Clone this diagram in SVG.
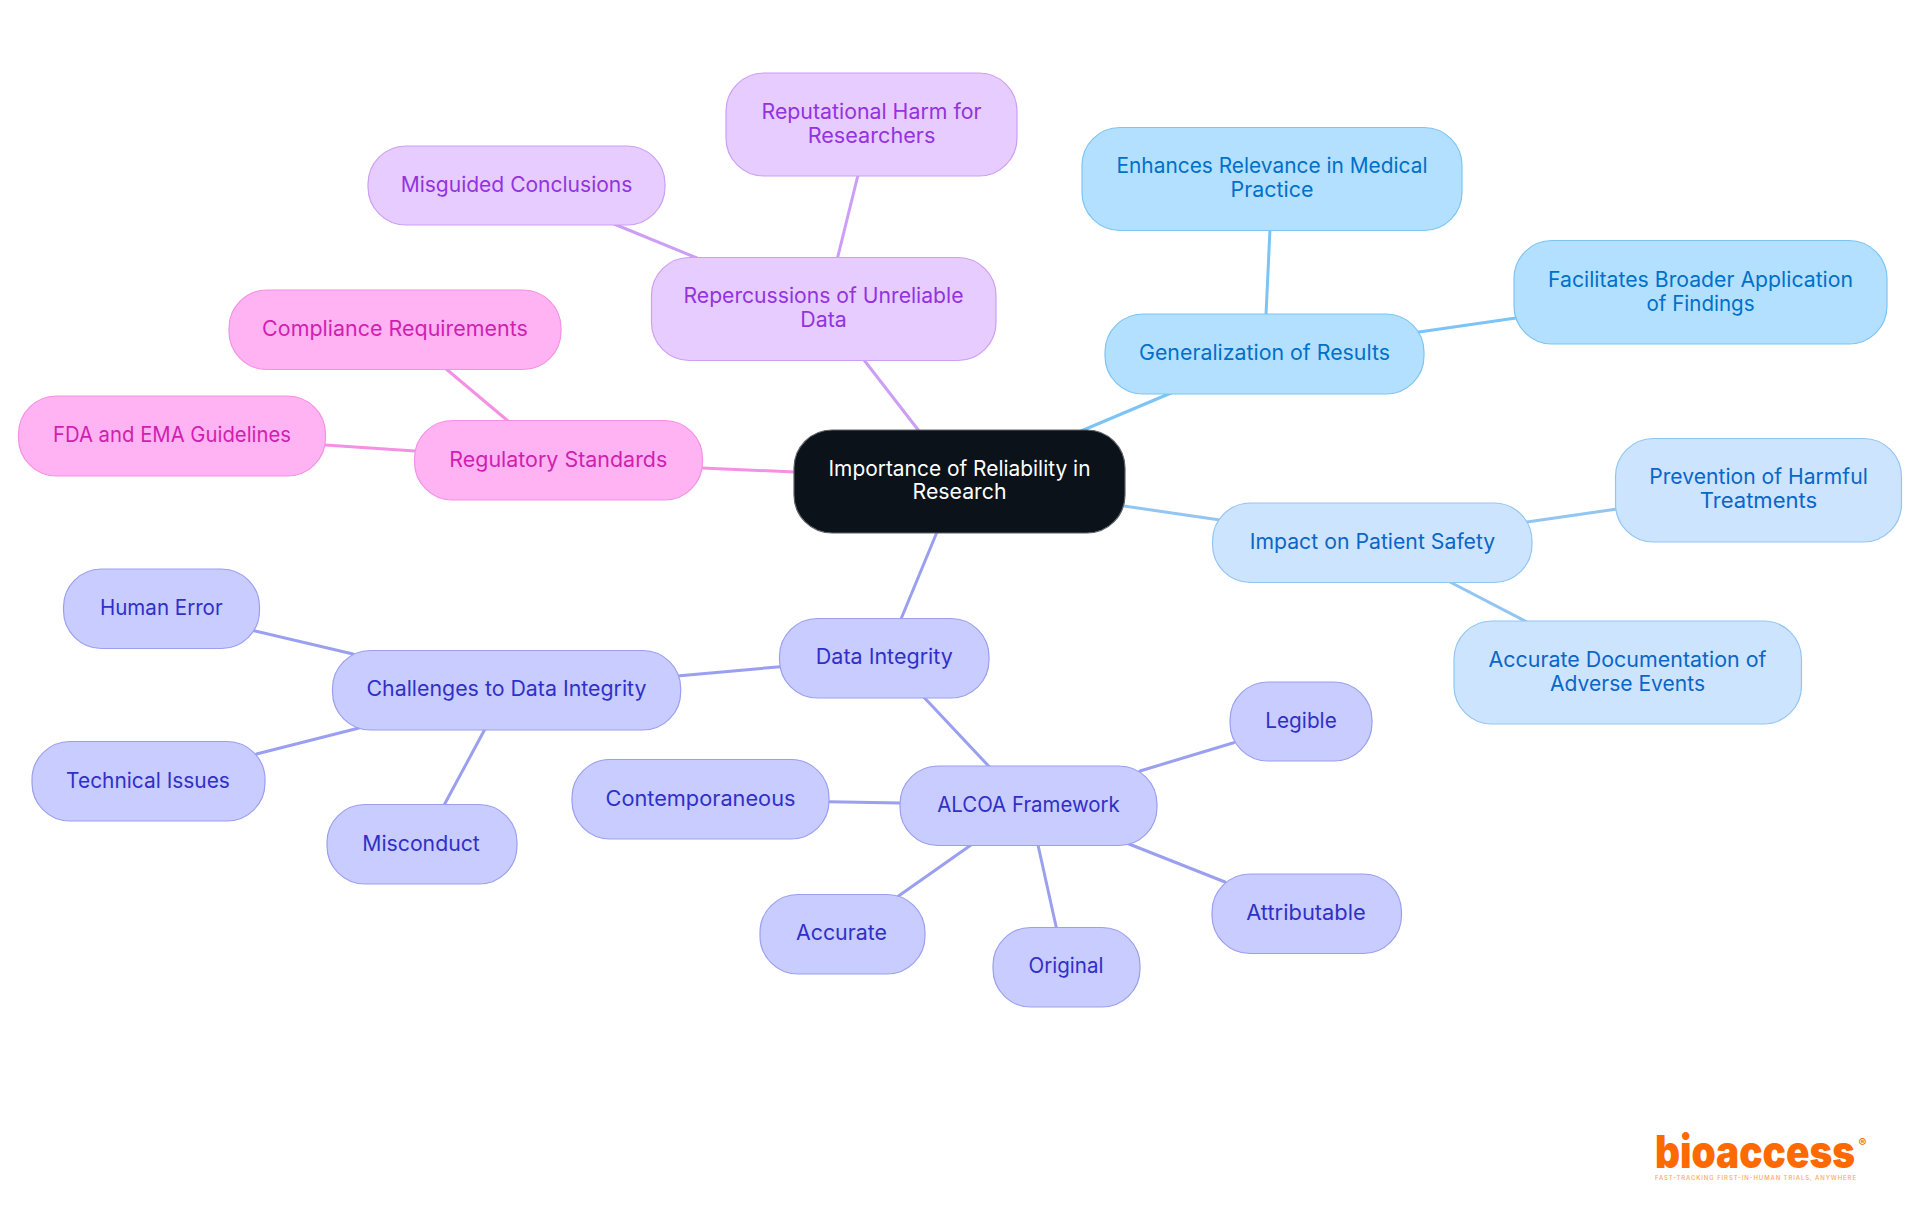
<svg xmlns="http://www.w3.org/2000/svg" width="1920" height="1215" viewBox="0 0 1920 1215">
<style>
text{font-family:"Inter","Noto Sans","Liberation Sans",sans-serif;font-size:21px;font-weight:400;text-anchor:middle}
rect{stroke-width:1.2}
#connectors line{stroke-width:3;stroke-linecap:round;fill:none}
.sky rect{fill:#b3e0ff;stroke:#7cc4f5}.sky text{fill:#0070c9}
.blue rect{fill:#cce4fd;stroke:#93c5f3}.blue text{fill:#0a66c8}
.vio rect{fill:#e7ccff;stroke:#cd9ef5}.vio text{fill:#9333e0}
.pink rect{fill:#ffb3f2;stroke:#f590e4}.pink text{fill:#d01fb0}
.ind rect{fill:#c9ccff;stroke:#9a9ff0}.ind text{fill:#3030c8}
.e-sky{stroke:#7cc4f5}.e-blue{stroke:#93c5f3}.e-vio{stroke:#cd9ef5}.e-pink{stroke:#f590e4}.e-ind{stroke:#9a9ff0}
</style>
<rect width="1920" height="1215" fill="#ffffff" style="stroke:none"/>
<g id="connectors">
<line class="e-sky" x1="1081" y1="431" x2="1171" y2="393"/>
<line class="e-sky" x1="1270" y1="229" x2="1266" y2="315"/>
<line class="e-sky" x1="1419" y1="332" x2="1516" y2="318"/>
<line class="e-blue" x1="1124" y1="506" x2="1220" y2="520"/>
<line class="e-blue" x1="1527" y1="522" x2="1617" y2="509"/>
<line class="e-blue" x1="1450" y1="582" x2="1527" y2="622"/>
<line class="e-vio" x1="864" y1="360" x2="919" y2="431"/>
<line class="e-vio" x1="858" y1="175" x2="837.500" y2="258"/>
<line class="e-vio" x1="614" y1="224" x2="697" y2="258"/>
<line class="e-pink" x1="702" y1="468" x2="795" y2="472"/>
<line class="e-pink" x1="445" y1="368" x2="508" y2="421"/>
<line class="e-pink" x1="325" y1="445" x2="415" y2="451"/>
<line class="e-ind" x1="937" y1="532" x2="901" y2="619"/>
<line class="e-ind" x1="680" y1="675.700" x2="780" y2="666.700"/>
<line class="e-ind" x1="923.700" y1="697" x2="989.500" y2="767"/>
<line class="e-ind" x1="254" y1="630.700" x2="353" y2="654"/>
<line class="e-ind" x1="256.500" y1="754" x2="359" y2="728"/>
<line class="e-ind" x1="485" y1="729" x2="443.600" y2="806"/>
<line class="e-ind" x1="1140" y1="771" x2="1233.600" y2="742.700"/>
<line class="e-ind" x1="828" y1="801.700" x2="901" y2="803"/>
<line class="e-ind" x1="971" y1="845" x2="898.500" y2="896"/>
<line class="e-ind" x1="1038" y1="845" x2="1056.400" y2="928"/>
<line class="e-ind" x1="1129" y1="844" x2="1225" y2="882"/>
</g>
<g id="root"><rect x="794" y="430" width="331" height="103" rx="38" fill="#0b1219" stroke="#5c6066"/>
<text x="959.500" y="476" fill="#ffffff" textLength="262" lengthAdjust="spacingAndGlyphs">Importance of Reliability in</text>
<text x="959.500" y="499" fill="#ffffff" textLength="94" lengthAdjust="spacingAndGlyphs">Research</text></g>
<g id="generalization" class="sky"><rect x="1105" y="314" width="319" height="80" rx="38"/>
<text x="1264.500" y="359.500" textLength="251" lengthAdjust="spacingAndGlyphs">Generalization of Results</text></g>
<g id="enhances" class="sky"><rect x="1082" y="127.500" width="380" height="103" rx="38"/>
<text x="1272" y="172.700" textLength="311" lengthAdjust="spacingAndGlyphs">Enhances Relevance in Medical</text>
<text x="1272" y="197" textLength="83" lengthAdjust="spacingAndGlyphs">Practice</text></g>
<g id="facilitates" class="sky"><rect x="1514" y="240.500" width="373" height="103.500" rx="38"/>
<text x="1700.500" y="287" textLength="305" lengthAdjust="spacingAndGlyphs">Facilitates Broader Application</text>
<text x="1700.500" y="310.500" textLength="108" lengthAdjust="spacingAndGlyphs">of Findings</text></g>
<g id="impact" class="blue"><rect x="1212.500" y="503" width="319.500" height="79.500" rx="38"/>
<text x="1372.500" y="548.500" textLength="245.600" lengthAdjust="spacingAndGlyphs">Impact on Patient Safety</text></g>
<g id="prevention" class="blue"><rect x="1615.500" y="438.500" width="286" height="103.500" rx="38"/>
<text x="1758.500" y="484" textLength="218.500" lengthAdjust="spacingAndGlyphs">Prevention of Harmful</text>
<text x="1758.500" y="508" textLength="117.500" lengthAdjust="spacingAndGlyphs">Treatments</text></g>
<g id="documentation" class="blue"><rect x="1454" y="621" width="347.500" height="103" rx="38"/>
<text x="1627.500" y="667" textLength="278" lengthAdjust="spacingAndGlyphs">Accurate Documentation of</text>
<text x="1627.500" y="691" textLength="155" lengthAdjust="spacingAndGlyphs">Adverse Events</text></g>
<g id="repercussions" class="vio"><rect x="651.500" y="257.500" width="344.500" height="103" rx="38"/>
<text x="823.500" y="303" textLength="280" lengthAdjust="spacingAndGlyphs">Repercussions of Unreliable</text>
<text x="823.500" y="327" textLength="46.400" lengthAdjust="spacingAndGlyphs">Data</text></g>
<g id="reputational" class="vio"><rect x="726" y="73" width="291" height="103" rx="38"/>
<text x="871.500" y="119" textLength="220" lengthAdjust="spacingAndGlyphs">Reputational Harm for</text>
<text x="871.500" y="143" textLength="127.700" lengthAdjust="spacingAndGlyphs">Researchers</text></g>
<g id="misguided" class="vio"><rect x="368" y="146" width="297" height="79" rx="38"/>
<text x="516.500" y="192" textLength="231.700" lengthAdjust="spacingAndGlyphs">Misguided Conclusions</text></g>
<g id="regulatory" class="pink"><rect x="414.500" y="420.500" width="288" height="79.500" rx="38"/>
<text x="558.300" y="466.500" textLength="218" lengthAdjust="spacingAndGlyphs">Regulatory Standards</text></g>
<g id="compliance" class="pink"><rect x="229" y="290" width="332" height="79.500" rx="38"/>
<text x="395" y="336" textLength="265.800" lengthAdjust="spacingAndGlyphs">Compliance Requirements</text></g>
<g id="fda" class="pink"><rect x="18.500" y="396" width="307" height="80" rx="38"/>
<text x="172" y="441.500" textLength="238" lengthAdjust="spacingAndGlyphs">FDA and EMA Guidelines</text></g>
<g id="data-integrity" class="ind"><rect x="779.500" y="618.500" width="209.500" height="79.500" rx="38"/>
<text x="884.300" y="663.500" textLength="137" lengthAdjust="spacingAndGlyphs">Data Integrity</text></g>
<g id="challenges" class="ind"><rect x="332.500" y="650.500" width="348.200" height="79.500" rx="38"/>
<text x="506.500" y="695.500" textLength="280" lengthAdjust="spacingAndGlyphs">Challenges to Data Integrity</text></g>
<g id="human-error" class="ind"><rect x="63.500" y="569" width="196" height="79.500" rx="38"/>
<text x="161.300" y="614.500" textLength="122.800" lengthAdjust="spacingAndGlyphs">Human Error</text></g>
<g id="technical" class="ind"><rect x="32" y="741.500" width="233" height="79.500" rx="38"/>
<text x="148" y="788" textLength="163.800" lengthAdjust="spacingAndGlyphs">Technical Issues</text></g>
<g id="misconduct" class="ind"><rect x="327" y="804.500" width="190" height="79.500" rx="38"/>
<text x="421" y="851" textLength="117.500" lengthAdjust="spacingAndGlyphs">Misconduct</text></g>
<g id="alcoa" class="ind"><rect x="900" y="766" width="257" height="79.500" rx="38"/>
<text x="1028.500" y="811.500" textLength="182.700" lengthAdjust="spacingAndGlyphs">ALCOA Framework</text></g>
<g id="legible" class="ind"><rect x="1230" y="682" width="142" height="79" rx="38"/>
<text x="1301" y="727.500" textLength="71.500" lengthAdjust="spacingAndGlyphs">Legible</text></g>
<g id="contemporaneous" class="ind"><rect x="572" y="759.500" width="257" height="79.500" rx="38"/>
<text x="700.500" y="805.500" textLength="190" lengthAdjust="spacingAndGlyphs">Contemporaneous</text></g>
<g id="accurate" class="ind"><rect x="760" y="894.500" width="165" height="79.500" rx="38"/>
<text x="841.500" y="939.500" textLength="91" lengthAdjust="spacingAndGlyphs">Accurate</text></g>
<g id="original" class="ind"><rect x="993" y="927.500" width="147" height="79.500" rx="38"/>
<text x="1066" y="972.500" textLength="75" lengthAdjust="spacingAndGlyphs">Original</text></g>
<g id="attributable" class="ind"><rect x="1212" y="874" width="189.500" height="79.500" rx="38"/>
<text x="1306" y="920" textLength="119.600" lengthAdjust="spacingAndGlyphs">Attributable</text></g>
<g id="logo">
<text x="1755" y="1168" fill="#ff6a00" style="font-size:45px;font-weight:900" textLength="200" lengthAdjust="spacingAndGlyphs">bioaccess</text>
<text x="1862.500" y="1147" fill="#ff6a00" style="font-size:12px;font-weight:700">®</text>
<text x="1755.500" y="1180" fill="#ffa766" style="font-size:6px;font-weight:500" textLength="201">FAST-TRACKING FIRST-IN-HUMAN TRIALS, ANYWHERE</text>
</g>
</svg>
